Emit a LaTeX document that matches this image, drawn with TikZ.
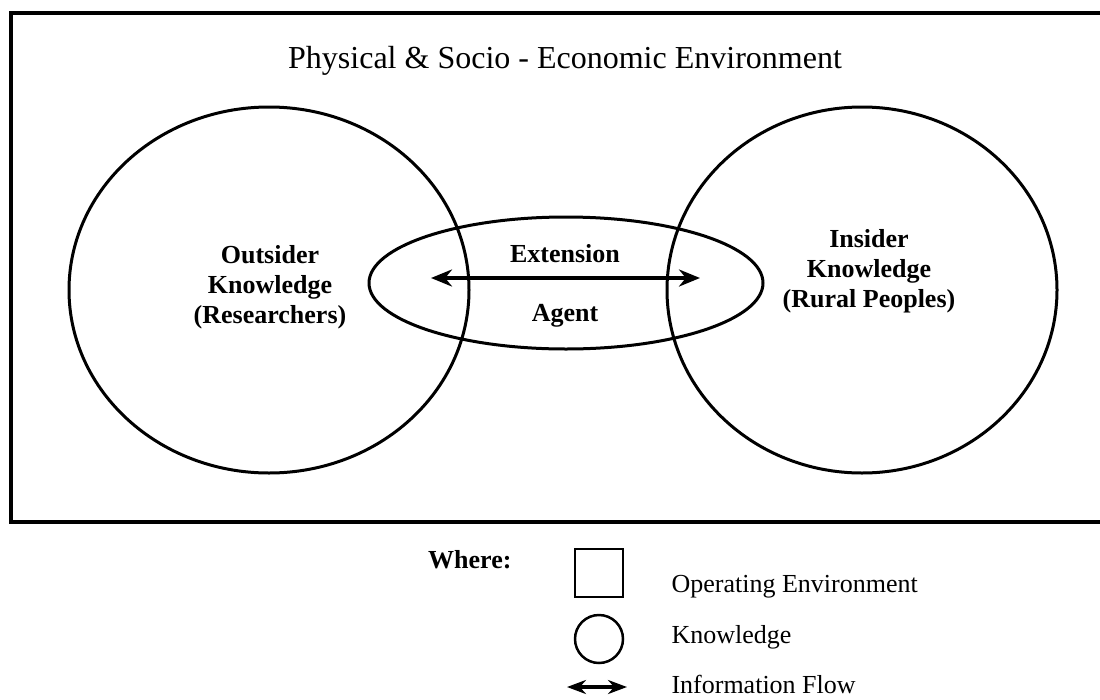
\documentclass[tikz,border=0pt]{standalone}
\usepackage{fontspec}
\setmainfont{Liberation Serif}
\usetikzlibrary{shapes.geometric, arrows.meta, positioning}

\begin{document}
\begin{tikzpicture}[x=1pt, y=-1pt,
        knw/.style={draw, ellipse, line width=3pt, inner sep=0pt},
        lbl/.style={align=center, font=\bfseries\fontsize{26}{30}\selectfont},
        key/.style={anchor=base west, font=\fontsize{26}{30}\selectfont},
        flow/.style={{Stealth[length=21pt,width=17pt]}-{Stealth[length=21pt,width=17pt]},
                     line width=4.5pt}
      ]
        \useasboundingbox (0,0) rectangle (1100,699);

        % operating environment
        \draw[line width=3.5pt] (11,13) rectangle (1110,522);
        \node[anchor=base, font=\fontsize{32}{36}\selectfont] (env) at (565,68)
          {Physical \& Socio - Economic Environment};

        % knowledge
        \node[knw, minimum width=400pt, minimum height=366pt] (out) at (269,290) {};
        \node[knw, minimum width=390pt, minimum height=366pt] (ins) at (862,290) {};
        \node[knw, minimum width=394pt, minimum height=132pt] (agt) at (566,283) {};

        \node[lbl] (outtxt) at (270,287) {Outsider\\Knowledge\\(Researchers)};
        \node[lbl] (instxt) at (869,271) {Insider\\Knowledge\\(Rural Peoples)};
        \node[lbl, anchor=base] (ext) at (565,262) {Extension};
        \node[lbl, anchor=base] (agn) at (565,321) {Agent};

        \coordinate (fl) at (431,278);
        \coordinate (fr) at (700,278);
        \draw[flow] (fl) -- (fr);

        % legend
        \node[anchor=base east, font=\bfseries\fontsize{26}{30}\selectfont] (where) at (515,568) {Where:};
        \node[draw, line width=2.5pt, minimum size=48pt, inner sep=0pt] (sq) at (599,573) {};
        \node[draw, circle, line width=2.5pt, minimum size=48pt, inner sep=0pt] (ci) at (599,639) {};
        \coordinate (kl) at (567,687);
        \coordinate (kr) at (627,687);
        \draw[{Stealth[length=19pt,width=14pt]}-{Stealth[length=19pt,width=14pt]}, line width=4pt] (kl) -- (kr);

        \node[key] (opk) at (668,592) {Operating Environment};
        \node[key] (knk) at (668,643) {Knowledge};
        \node[key] (ifk) at (668,693) {Information Flow};
      \end{tikzpicture}
\end{document}
